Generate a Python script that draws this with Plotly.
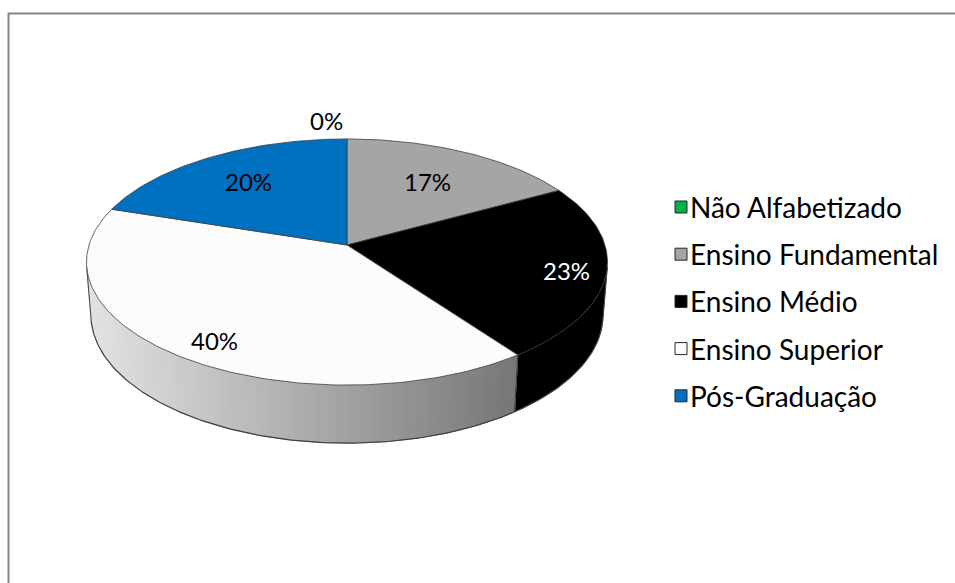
import numpy as np
import plotly.graph_objects as go

# ---- data ----
categories = ["Não Alfabetizado", "Ensino Fundamental", "Ensino Médio",
              "Ensino Superior", "Pós-Graduação"]
shares = [0, 17, 23, 40, 20]
slice_colors = ["#00b050", "#a5a5a5", "#000000", "#fcfcfc", "#0070c0"]
label_colors = ["#000000", "#000000", "#ffffff", "#000000", "#000000"]

# ---- styling / geometry of the tilted pie ----
W, H = 955, 583
FONT = "Lato"
LABEL_SIZE = 24
LEGEND_SIZE = 28
CX, CY = 347, 245          # screen position of the pie centre (top face)
PHI = np.radians(27.9)     # elevation of the viewpoint
DIST = 6.39                # camera distance (in pie radii)
FOCAL = 1648.6             # projection scale
THICK = 0.234              # slab thickness (in pie radii)
EDGE = "#3f3f3f"
label_radius = [1.2, 0.66, 0.85, 0.8, 0.7]

cphi, sphi = np.cos(PHI), np.sin(PHI)


def project(X, Y, Z):
    up = Y * cphi - Z * sphi
    depth = Z * cphi + Y * sphi
    s = FOCAL / (DIST - depth)
    return CX + X * s, CY - up * s


def rim(theta, r=1.0, y=0.0):
    theta = np.asarray(theta, dtype=float)
    return project(r * np.sin(theta), y, -r * np.cos(theta))


def hex_rgb(c):
    c = c.lstrip("#")
    return [int(c[i:i + 2], 16) for i in (0, 2, 4)]


def shade(c, f):
    r, g, b = hex_rgb(c)
    return "rgb(%d,%d,%d)" % (round(r * f), round(g * f), round(b * f))


total = float(sum(shares))
bounds = np.concatenate([[0.0], np.cumsum(shares) / total]) * 2 * np.pi

# front-facing part of the cylinder wall
vis_lo = np.arccos(-1.0 / (DIST * cphi))
vis_hi = 2 * np.pi - vis_lo
xl_sil = float(rim(vis_hi)[0])
xr_sil = float(rim(vis_lo)[0])


def wall_factor(x):
    frac = (x - xl_sil) / (xr_sil - xl_sil)
    return 0.90 - 0.52 * frac


fig = go.Figure()

# ---- chart-area frame (top and left edges inside the page) ----
fig.add_trace(go.Scatter(
    x=[W + 40, 8.5, 8.5], y=[13.5, 13.5, H + 40], mode="lines",
    line=dict(color="#868686", width=2), hoverinfo="skip"))

# ---- side walls: solid base, then shaded strips ----
for i, c in enumerate(slice_colors):
    a0, a1 = bounds[i], bounds[i + 1]
    lo, hi = max(a0, vis_lo), min(a1, vis_hi)
    if hi <= lo:
        continue
    tt = np.linspace(lo, hi, 120)
    xt, yt = rim(tt)
    xb, yb = rim(tt[::-1], y=-THICK)
    base = shade(c, wall_factor(float(np.mean(xt))))
    fig.add_trace(go.Scatter(
        x=list(xt) + list(xb) + [xt[0]], y=list(yt) + list(yb) + [yt[0]],
        mode="lines", fill="toself", fillcolor=base,
        line=dict(color=base, width=0.5), hoverinfo="skip"))
    if max(hex_rgb(c)) == 0:
        continue
    n = int(np.degrees(hi - lo) / 1.2) + 1
    edges = np.linspace(lo, hi, n + 1)
    for t0, t1 in zip(edges[:-1], edges[1:]):
        xt0, yt0 = rim(t0)
        xt1, yt1 = rim(t1)
        xb1, yb1 = rim(t1, y=-THICK)
        xb0, yb0 = rim(t0, y=-THICK)
        col = shade(c, wall_factor(0.5 * (xt0 + xt1)))
        fig.add_trace(go.Scatter(
            x=[xt0, xt1, xb1, xb0, xt0], y=[yt0, yt1, yb1, yb0, yt0],
            mode="lines", fill="toself", fillcolor=col,
            line=dict(color=col, width=1.0), hoverinfo="skip"))

# ---- wall outlines ----
tb = np.linspace(vis_lo, vis_hi, 200)
bx, by = rim(tb, y=-THICK)
fig.add_trace(go.Scatter(x=bx, y=by, mode="lines",
                         line=dict(color=EDGE, width=1.2), hoverinfo="skip"))
for t in [vis_lo, vis_hi] + [b for b in bounds if vis_lo < b < vis_hi]:
    x0, y0 = rim(t)
    x1, y1 = rim(t, y=-THICK)
    fig.add_trace(go.Scatter(x=[x0, x1], y=[y0, y1], mode="lines",
                             line=dict(color=EDGE, width=1.0), hoverinfo="skip"))

# ---- top faces ----
for i, c in enumerate(slice_colors):
    a0, a1 = bounds[i], bounds[i + 1]
    if a1 - a0 <= 0:
        continue
    ts = np.linspace(a0, a1, int(np.degrees(a1 - a0)) + 2)
    xs, ys = rim(ts)
    fig.add_trace(go.Scatter(
        x=[CX] + list(xs) + [CX], y=[CY] + list(ys) + [CY],
        mode="lines", fill="toself", fillcolor=c,
        line=dict(color=EDGE, width=0.8), hoverinfo="skip"))

# ---- percentage labels ----
annotations = []
for i, v in enumerate(shares):
    mid = 0.5 * (bounds[i] + bounds[i + 1])
    r = label_radius[i]
    drop = -THICK * 0.2 * max(0.0, -np.cos(mid))
    lx, ly = project(r * np.sin(mid), drop, -r * np.cos(mid))
    txt = "%d%%" % round(100 * v / total)
    annotations.append(dict(
        x=float(lx) - (2 if v == 0 else 0), y=float(ly), text=txt,
        xanchor="right" if v == 0 else "center", yanchor="middle", showarrow=False,
        font=dict(family=FONT, size=LABEL_SIZE, color=label_colors[i])))

# ---- legend ----
LEG_X, LEG_Y0, LEG_DY = 681, 207, 47.2
leg_y = [LEG_Y0 + k * LEG_DY for k in range(len(categories))]
fig.add_trace(go.Scatter(
    x=[LEG_X] * len(categories), y=leg_y, mode="markers",
    marker=dict(symbol="square", size=12, color=slice_colors,
                line=dict(color="#262626", width=1.0)),
    hoverinfo="skip"))
for name, y in zip(categories, leg_y):
    annotations.append(dict(x=LEG_X + 7, y=y, text=name, xanchor="left",
                            yanchor="middle", showarrow=False,
                            font=dict(family=FONT, size=LEGEND_SIZE, color="#000000")))

fig.update_layout(
    width=W, height=H, margin=dict(l=0, r=0, t=0, b=0),
    paper_bgcolor="white", plot_bgcolor="white", showlegend=False,
    xaxis=dict(range=[0, W], visible=False, fixedrange=True),
    yaxis=dict(range=[H, 0], visible=False, fixedrange=True),
    annotations=annotations,
)

fig.write_html("out.html")
